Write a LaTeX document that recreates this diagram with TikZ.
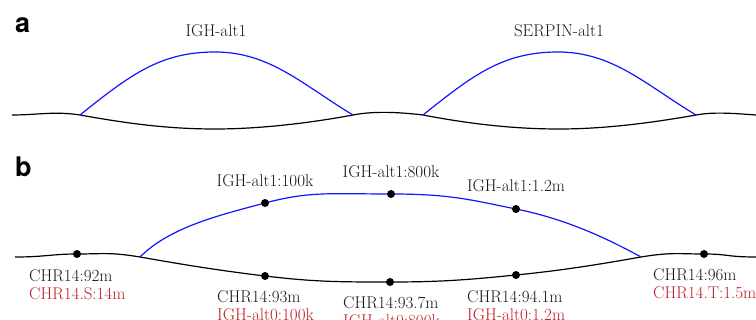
\documentclass[tikz,border=0pt]{standalone}
\usepackage{fontspec}
\newfontfamily\heros{TeX Gyre Heros}
\definecolor{lblred}{RGB}{192,30,38}
\definecolor{lblgray}{RGB}{25,25,25}
\definecolor{altblue}{RGB}{20,20,255}
\begin{document}
\begin{tikzpicture}[x=1pt,y=-1pt,
  panel/.style={anchor=base west,inner sep=0pt,font=\heros\bfseries\fontsize{27}{30}\selectfont},
  lbl/.style={inner sep=0pt,font=\fontsize{17}{20}\selectfont,text=lblgray},
  toplbl/.style={lbl,anchor=base},
  botlbl/.style={lbl,anchor=base west},
  redlbl/.style={botlbl,text=lblred},
  ref/.style={line width=1.2pt,black},
  alt/.style={line width=1.2pt,altblue},
  dot/.style={circle,fill=black,inner sep=0pt,minimum size=8pt}]
\useasboundingbox (0,0) rectangle (756,320);
% panel labels
\node[panel] (pa) at (15,33) {a};
\node[panel] (pb) at (15,177) {b};
% ---------- panel a ----------
\coordinate (a0) at (12,115);
\coordinate (a1) at (80,115);
\coordinate (a2) at (215,129);
\coordinate (a3) at (353,115);
\coordinate (a4) at (423,115);
\coordinate (a5) at (559,129);
\coordinate (a6) at (696,115);
\coordinate (a7) at (756,115);
\coordinate (pk1) at (215,52);
\coordinate (pk2) at (558,52);
\draw[ref] (a0) .. controls +(25,0) and +(-25,-4) .. (a1)
  .. controls +(50,9) and +(-45,0) .. (a2)
  .. controls +(45,0) and +(-43,8) .. (a3)
  .. controls +(15,-3) and +(-33,-4) .. (a4)
  .. controls +(47,9) and +(-45,0) .. (a5)
  .. controls +(45,0) and +(-45,8) .. (a6)
  .. controls +(16,-3) and +(-26,-2) .. (a7);
\draw[alt] (a1) .. controls +(50,-40) and +(-55,0) .. (pk1)
  .. controls +(55,0) and +(-50,-30) .. (a3);
\draw[alt] (a4) .. controls +(50,-40) and +(-55,0) .. (pk2)
  .. controls +(55,0) and +(-50,-30) .. (a6);
\node[toplbl] (la1) at (216,37) {IGH-alt1};
\node[toplbl] (la2) at (559,37) {SERPIN-alt1};
% ---------- panel b ----------
\coordinate (b0) at (15,257);
\coordinate (d1) at (77,254);
\coordinate (j1) at (140,257);
\coordinate (d2) at (265,276);
\coordinate (d3) at (390,282);
\coordinate (d4) at (516,275);
\coordinate (j2) at (641,257);
\coordinate (d5) at (704,254);
\coordinate (b9) at (756,257);
\coordinate (u1) at (265,203);
\coordinate (u2) at (391,194);
\coordinate (u3) at (516,209);
\draw[ref] (b0) .. controls +(30,0) and +(-25,0) .. (d1)
  .. controls +(25,0) and +(-30,-5) .. (j1)
  .. controls +(40,7) and +(-50,-6) .. (d2)
  .. controls +(50,6) and +(-50,0) .. (d3)
  .. controls +(50,0) and +(-50,5) .. (d4)
  .. controls +(50,-5) and +(-40,7) .. (j2)
  .. controls +(30,-5) and +(-25,0) .. (d5)
  .. controls +(25,0) and +(-30,0) .. (b9);
\draw[alt] (j1) .. controls +(30,-30) and +(-45,12) .. (u1)
  .. controls +(45,-12) and +(-60,0) .. (u2)
  .. controls +(60,0) and +(-45,-9) .. (u3)
  .. controls +(45,9) and +(-40,-22) .. (j2);
\foreach \p in {d1,d2,d3,d4,d5,u1,u2,u3} \node[dot] (n\p) at (\p) {};
\node[toplbl] (lu1) at (265,187) {IGH-alt1:100k};
\node[toplbl] (lu2) at (391,178) {IGH-alt1:800k};
\node[toplbl] (lu3) at (516,192) {IGH-alt1:1.2m};
\node[botlbl] (ld1) at (29,282) {CHR14:92m};
\node[redlbl] (rd1) at (29,300) {CHR14.S:14m};
\node[botlbl] (ld2) at (217,303) {CHR14:93m};
\node[redlbl] (rd2) at (217,321) {IGH-alt0:100k};
\node[botlbl] (ld3) at (343,309) {CHR14:93.7m};
\node[redlbl] (rd3) at (343,327) {IGH-alt0:800k};
\node[botlbl] (ld4) at (467,303) {CHR14:94.1m};
\node[redlbl] (rd4) at (467,321) {IGH-alt0:1.2m};
\node[botlbl] (ld5) at (653,281) {CHR14:96m};
\node[redlbl] (rd5) at (653,299) {CHR14.T:1.5m};
\end{tikzpicture}
\end{document}
